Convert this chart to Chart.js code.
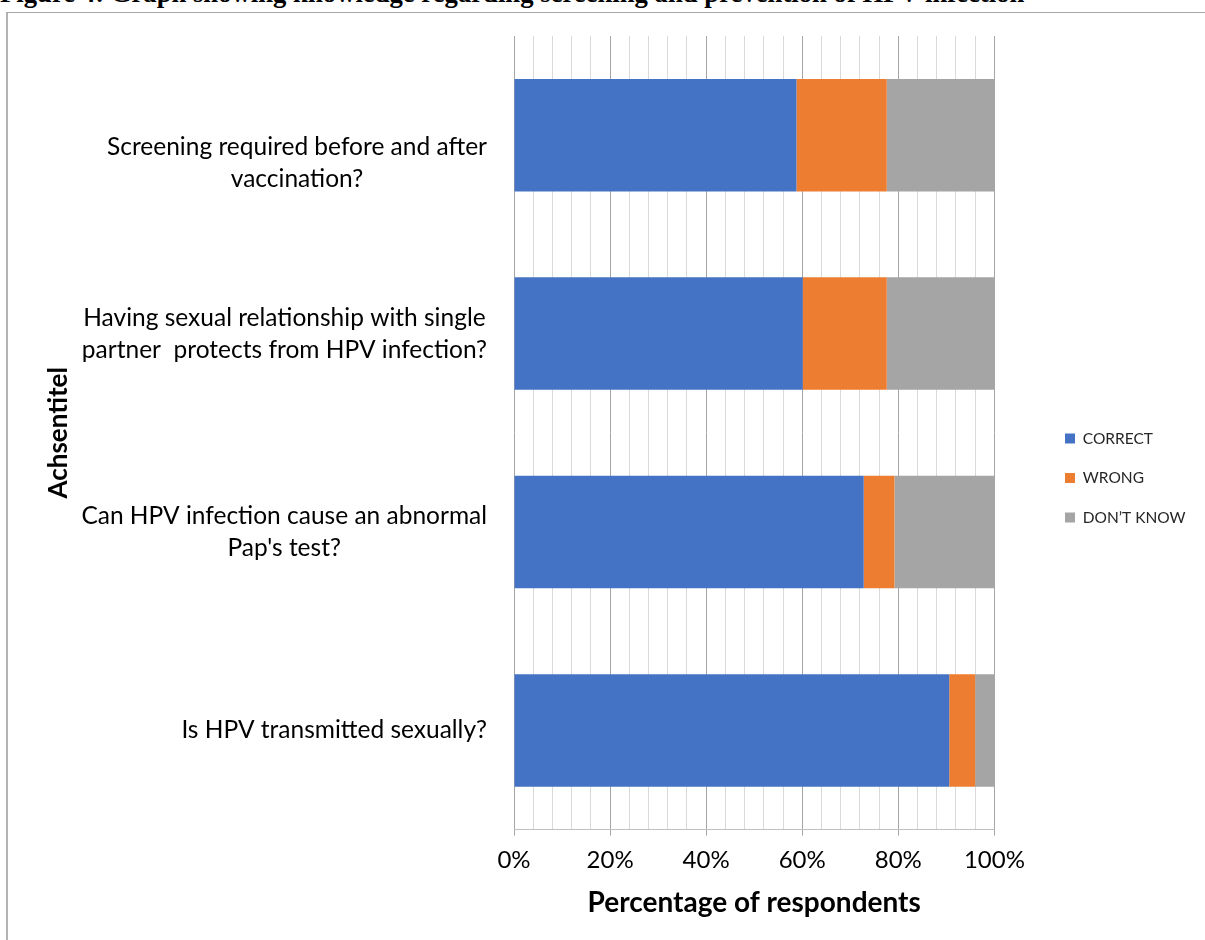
<!DOCTYPE html>
<html>
<head>
<meta charset="utf-8">
<script src="https://cdn.jsdelivr.net/npm/chart.js@4/dist/chart.umd.min.js"></script>
<style>
  html, body { margin: 0; padding: 0; background: #fff; }
  body { width: 1205px; height: 940px; overflow: hidden; position: relative; }
  #frame {
    position: absolute; left: 6px; top: 12px; width: 1400px; height: 1200px;
    border-left: 2px solid #b3b3b3; border-top: 1px solid #a6a6a6;
  }
  #caption {
    position: absolute; left: 0; top: -20px; white-space: nowrap; color: #000;
    font: bold 26.7px "Liberation Serif", "Times New Roman", serif; line-height: 27px;
  }
  #wrap { position: absolute; left: 0; top: 0; width: 1205px; height: 940px; }
</style>
</head>
<body>
<div id="frame"></div>
<div id="caption">Figure 4: Graph showing knowledge regarding screening and prevention of HPV infection</div>
<div id="wrap"><canvas id="c" width="1205" height="940"></canvas></div>
<script>
// Questions, top to bottom (multi-line labels are arrays of lines)
const categories = [
  ['Screening required before and after', 'vaccination?'],
  ['Having sexual relationship with single', 'partner  protects from HPV infection?'],
  ['Can HPV infection cause an abnormal', "Pap's test?"],
  'Is HPV transmitted sexually?'
];

// Share of respondents (%) per answer
const correctPct  = [58.8, 60.1, 72.8, 90.6];
const wrongPct    = [18.8, 17.5, 6.4, 5.4];
const dontKnowPct = [22.4, 22.4, 20.8, 4.0];

const seriesNames  = ['CORRECT', 'WRONG', 'DON\u2019T KNOW'];
const seriesColors = ['#4472C4', '#ED7D31', '#A5A5A5'];

// Value axis: gridline every 4 %, labelled every 20 %
const xMin = 0, xMax = 100, xStep = 4, xLabelEvery = 20;

// Vertical nudge (px) of each category label block; the first one sits lower
const labelNudgeY = [28, 0, 0, 0];

const FONT = 'Lato, Carlito, Calibri, "Open Sans", sans-serif';

// Category labels: each block right-aligned to the axis, its lines centred on one another
const blockLabels = {
  id: 'blockLabels',
  afterDraw(chart) {
    const ctx = chart.ctx;
    const y = chart.scales.y;
    const right = chart.chartArea.left - 27;
    const lineH = 32;
    ctx.save();
    ctx.font = '24.5px ' + FONT;
    ctx.fillStyle = '#000';
    ctx.textAlign = 'center';
    ctx.textBaseline = 'middle';
    chart.data.labels.forEach((lab, i) => {
      const lines = Array.isArray(lab) ? lab : [lab];
      const w = Math.max(...lines.map(l => ctx.measureText(l).width));
      const cx = right - w / 2;
      const cy = y.getPixelForTick(i) + (labelNudgeY[i] || 0);
      lines.forEach((l, j) => {
        ctx.fillText(l, cx, cy + (j - (lines.length - 1) / 2) * lineH);
      });
    });
    ctx.restore();
  }
};

// Legend sits further right than the default box and centred at y = 478
const legendPlacer = {
  id: 'legendPlacer',
  afterLayout(chart) {
    const lg = chart.legend;
    const pad = lg.options.labels.padding;
    const w = lg.width, h = lg.height;
    lg.left = 1065 - pad;
    lg.right = lg.left + w;
    lg.top = 478 - h / 2;
    lg.bottom = lg.top + h;
  }
};

new Chart(document.getElementById('c'), {
  type: 'bar',
  data: {
    labels: categories,
    datasets: [
      { label: seriesNames[0], data: correctPct,  backgroundColor: seriesColors[0] },
      { label: seriesNames[1], data: wrongPct,    backgroundColor: seriesColors[1] },
      { label: seriesNames[2], data: dontKnowPct, backgroundColor: seriesColors[2] }
    ]
  },
  options: {
    indexAxis: 'y',
    responsive: false,
    animation: false,
    devicePixelRatio: 1,
    datasets: { bar: { barPercentage: 0.567, categoryPercentage: 1.0, borderWidth: 0 } },
    layout: { padding: { top: 36, right: 56, bottom: 20, left: 0 } },
    scales: {
      x: {
        type: 'linear',
        stacked: true,
        min: xMin, max: xMax,
        ticks: {
          stepSize: xStep,
          autoSkip: false,
          maxRotation: 0,
          padding: 10,
          color: '#000',
          font: { family: FONT, size: 24 },
          callback: v => (v % xLabelEvery === 0 ? v + '%' : '')
        },
        grid: {
          color: c => (c.tick && c.tick.value % xLabelEvery === 0 ? '#a6a6a6' : '#d9d9d9'),
          tickColor: c => (c.tick && c.tick.value % xLabelEvery === 0 ? '#a6a6a6' : 'rgba(0,0,0,0)'),
          tickLength: 6,
          lineWidth: 1
        },
        border: { display: true, color: '#bfbfbf', width: 1 },
        title: {
          display: true,
          text: 'Percentage of respondents',
          color: '#000',
          font: { family: FONT, size: 28, weight: 'bold' },
          padding: { top: 2, bottom: 0 }
        }
      },
      y: {
        type: 'category',
        stacked: true,
        ticks: { display: false },
        grid: { display: false },
        border: { display: false },
        title: {
          display: true,
          text: 'Achsentitel',
          color: '#000',
          font: { family: FONT, size: 26, weight: 'bold' },
          padding: { top: 43, bottom: 0 }
        },
        afterFit(scale) { scale.width = 514; }
      }
    },
    plugins: {
      legend: {
        position: 'right',
        align: 'center',
        labels: {
          boxWidth: 10,
          boxHeight: 10,
          padding: 24,
          color: '#262626',
          font: { family: FONT, size: 15.5 }
        }
      },
      tooltip: { enabled: false }
    }
  },
  plugins: [blockLabels, legendPlacer]
});
</script>
</body>
</html>
